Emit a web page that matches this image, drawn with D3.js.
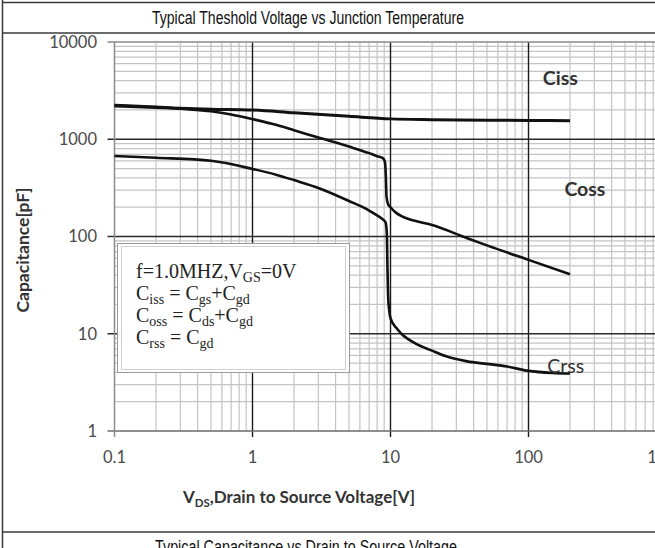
<!DOCTYPE html>
<html><head><meta charset="utf-8">
<script src="https://cdn.jsdelivr.net/npm/d3@7"></script>
<style>html,body{margin:0;padding:0;background:#fff;overflow:hidden}</style>
</head><body>
<svg id="c" width="655" height="548"></svg>
<script>
// ---- data ----
const xTickValues = [0.1, 1, 10, 100, 1000];
const xTickLabels = ["0.1", "1", "10", "100", "1000"];
const yTickValues = [1, 10, 100, 1000, 10000];
const yTickLabels = ["1", "10", "100", "1000", "10000"];

const cissV = [0.1, 0.2, 0.5, 1, 2, 5, 10, 20, 50, 100, 200];
const cissC = [2200, 2120, 2040, 2000, 1870, 1720, 1620, 1590, 1570, 1560, 1550];

const cossV = [0.1, 0.2, 0.3, 0.5, 0.7, 1, 1.5, 2, 3, 5, 7, 8, 8.8, 9.1, 9.25, 9.35, 9.6, 10, 11, 12, 15, 20, 36, 50, 100, 200];
const cossC = [2250, 2150, 2060, 1940, 1800, 1610, 1400, 1240, 1040, 840, 720, 670, 640, 590, 420, 260, 215, 200, 175, 162, 145, 131, 96, 81, 57.5, 41];

const crssV = [0.1, 0.2, 0.5, 1, 1.5, 2, 3, 5, 7, 8, 8.8, 9.2, 9.4, 9.5, 9.6, 9.8, 10, 11, 12, 15, 20, 25, 36, 50, 70, 100, 150, 200];
const crssC = [673, 645, 600, 495, 430, 380, 316, 232, 185, 165, 150, 140, 110, 50, 25, 17, 14.5, 11.5, 10, 8, 6.7, 5.9, 5.2, 4.9, 4.6, 4.15, 3.95, 3.9];

const seriesNames = ["Ciss", "Coss", "Crss"];
const labelV = [127, 182, 137];
const labelC = [4270, 309, 4.6];

const titleTop = "Typical Theshold Voltage vs Junction Temperature";
const captionBottom = "Typical Capacitance vs Drain to Source Voltage";

// ---- drawing ----
const svg = d3.select("#c");
const x = d3.scaleLog().domain([0.1, 1000]).range([114.5, 114.5 + 4 * 138]);
const y = d3.scaleLog().domain([1, 10000]).range([431, 42]);

// table frame
const frame = svg.append("g").attr("stroke", "#3a3a3a").attr("stroke-width", 1.5);
frame.append("line").attr("x1", 2.5).attr("x2", 2.5).attr("y1", 0).attr("y2", 548);
frame.append("line").attr("x1", 2).attr("x2", 655).attr("y1", 2.5).attr("y2", 2.5);
frame.append("line").attr("x1", 2).attr("x2", 655).attr("y1", 33).attr("y2", 33);
frame.append("line").attr("x1", 2).attr("x2", 655).attr("y1", 532).attr("y2", 532);

svg.append("text").attr("x", 308).attr("y", 24).attr("text-anchor", "middle")
  .attr("font-family", "Liberation Sans, Arial, sans-serif").attr("font-size", 18).attr("fill", "#111")
  .attr("textLength", 312).attr("lengthAdjust", "spacingAndGlyphs")
  .text(titleTop);
svg.append("text").attr("x", 306).attr("y", 553).attr("text-anchor", "middle")
  .attr("font-family", "Liberation Sans, Arial, sans-serif").attr("font-size", 18).attr("fill", "#111")
  .attr("textLength", 302).attr("lengthAdjust", "spacingAndGlyphs")
  .text(captionBottom);

// grid
const minorX = [], minorY = [];
[0.1, 1, 10, 100].forEach(d => { for (let k = 2; k <= 9; k++) minorX.push(d * k); });
[1, 10, 100, 1000].forEach(d => { for (let k = 2; k <= 9; k++) minorY.push(d * k); });
const [x0, x1] = x.range();
const [yb, yt] = y.range();
const grid = svg.append("g");
grid.selectAll(".mx").data(minorX).join("line")
  .attr("x1", d => x(d)).attr("x2", d => x(d)).attr("y1", yt).attr("y2", yb)
  .attr("stroke", "#c4c4c4").attr("stroke-width", 1.2);
grid.selectAll(".my").data(minorY).join("line")
  .attr("x1", x0).attr("x2", x1).attr("y1", d => y(d)).attr("y2", d => y(d))
  .attr("stroke", "#c4c4c4").attr("stroke-width", 1.2);
// major
grid.selectAll(".Mx").data([1, 10, 100]).join("line")
  .attr("x1", d => x(d)).attr("x2", d => x(d)).attr("y1", yt).attr("y2", yb + 6)
  .attr("stroke", "#1a1a1a").attr("stroke-width", 1.4);
grid.selectAll(".My").data([10, 100, 1000]).join("line")
  .attr("x1", x0 - 7).attr("x2", x1).attr("y1", d => y(d)).attr("y2", d => y(d))
  .attr("stroke", "#2a2a2a").attr("stroke-width", 1.4);
// edges
grid.append("line").attr("x1", x0 - 7).attr("x2", x1).attr("y1", yt).attr("y2", yt).attr("stroke", "#8a8a8a").attr("stroke-width", 1.5);
grid.append("line").attr("x1", x0 - 7).attr("x2", x1).attr("y1", yb).attr("y2", yb).attr("stroke", "#6a6a6a").attr("stroke-width", 1.5);
grid.append("line").attr("x1", x0).attr("x2", x0).attr("y1", yt).attr("y2", yb + 6).attr("stroke", "#8a8a8a").attr("stroke-width", 1.5);
grid.selectAll(".tx").data([1000]).join("line")
  .attr("x1", d => x(d)).attr("x2", d => x(d)).attr("y1", yb).attr("y2", yb + 6).attr("stroke", "#6a6a6a");

// tick labels
const tickFont = "Lato, 'Open Sans', sans-serif";
svg.append("g").selectAll("text").data(yTickValues).join("text")
  .attr("x", 97).attr("y", d => y(d)).attr("dy", "0.35em").attr("text-anchor", "end")
  .attr("font-family", tickFont).attr("font-size", 16.5).attr("fill", "#4a4a4a")
  .text((d, i) => yTickLabels[i]);
svg.append("g").selectAll("text").data(xTickValues).join("text")
  .attr("x", d => x(d)).attr("y", 463).attr("text-anchor", "middle")
  .attr("font-family", tickFont).attr("font-size", 16.5).attr("fill", "#4a4a4a")
  .text((d, i) => xTickLabels[i]);

// curves
const line = d3.line().x(d => x(d[0])).y(d => y(d[1])).curve(d3.curveMonotoneX);
const curves = [
  d3.zip(cissV, cissC),
  d3.zip(cossV, cossC),
  d3.zip(crssV, crssC)
];
svg.append("g").selectAll("path").data(curves).join("path")
  .attr("d", line).attr("fill", "none").attr("stroke", "#111")
  .attr("stroke-width", (d, i) => i === 0 ? 3 : 2.6).attr("stroke-linejoin", "round");

// series labels
svg.append("g").selectAll("text").data(seriesNames).join("text")
  .attr("x", (d, i) => x(labelV[i])).attr("y", (d, i) => y(labelC[i])).attr("dy", "0.35em")
  .attr("font-family", tickFont).attr("font-weight", (d, i) => i === 2 ? 400 : 700)
  .attr("font-size", 19.5).attr("fill", "#333")
  .text(d => d);

// legend box
const lg = svg.append("g");
lg.append("rect").attr("x", 117.5).attr("y", 243.5).attr("width", 232).attr("height", 129)
  .attr("fill", "#fff").attr("stroke", "#9a9a9a").attr("stroke-width", 1);
lg.append("rect").attr("x", 121.5).attr("y", 246.5).attr("width", 224).attr("height", 123)
  .attr("fill", "none").attr("stroke", "#d0d0d0").attr("stroke-width", 1);
const legendLines = [
  [["f=1.0MHZ,V", 0], ["GS", 1], ["=0V", 0]],
  [["C", 0], ["iss", 1], [" = C", 0], ["gs", 1], ["+C", 0], ["gd", 1]],
  [["C", 0], ["oss", 1], [" = C", 0], ["ds", 1], ["+C", 0], ["gd", 1]],
  [["C", 0], ["rss", 1], [" = C", 0], ["gd", 1]]
];
const lt = lg.selectAll("text").data(legendLines).join("text")
  .attr("x", 136).attr("y", (d, i) => 278 + i * 22)
  .attr("font-family", "Liberation Serif, 'Times New Roman', serif").attr("font-size", 20).attr("fill", "#222");
lt.each(function(parts) {
  const t = d3.select(this);
  let shifted = false;
  parts.forEach(([s, sub]) => {
    const ts = t.append("tspan").text(s);
    if (sub && !shifted) { ts.attr("dy", 4).attr("font-size", 14); shifted = true; }
    else if (sub) { ts.attr("font-size", 14); }
    else if (!sub && shifted) { ts.attr("dy", -4); shifted = false; }
  });
});

// axis titles
svg.append("text").attr("transform", "translate(23,250) rotate(-90)").attr("text-anchor", "middle")
  .attr("dy", "0.35em").attr("font-family", tickFont).attr("font-weight", 700).attr("font-size", 17.5).attr("fill", "#333")
  .text("Capacitance[pF]");
const xt = svg.append("text").attr("x", 299).attr("y", 503).attr("text-anchor", "middle")
  .attr("font-family", tickFont).attr("font-weight", 700).attr("font-size", 17).attr("fill", "#333");
xt.append("tspan").text("V");
xt.append("tspan").attr("dy", 4).attr("font-size", 11.5).text("DS");
xt.append("tspan").attr("dy", -4).text(",Drain to Source Voltage[V]");
</script>
</body></html>
